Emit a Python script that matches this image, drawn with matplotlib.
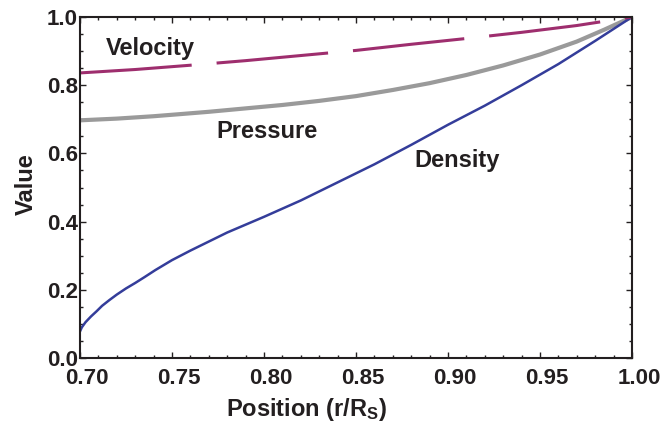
#!/usr/bin/env python3

import matplotlib
matplotlib.use('Agg')
import matplotlib.pyplot as plt
from matplotlib.ticker import MultipleLocator, FormatStrFormatter
from matplotlib.transforms import ScaledTranslation

plt.rcParams['font.family'] = ['Liberation Sans', 'DejaVu Sans']
plt.rcParams['font.weight'] = 'bold'
plt.rcParams['axes.labelweight'] = 'bold'
plt.rcParams['mathtext.fontset'] = 'custom'
plt.rcParams['mathtext.rm'] = 'Liberation Sans:bold'
plt.rcParams['mathtext.bf'] = 'Liberation Sans:bold'
plt.rcParams['mathtext.it'] = 'Liberation Sans:bold'
plt.rcParams['lines.scale_dashes'] = False

ink = '#231f20'

# Values.
density_x = [0.700, 0.701, 0.703, 0.706, 0.709, 0.712, 0.716, 0.720, 0.725, 0.730, 0.735,
             0.741, 0.750, 0.760, 0.780, 0.800, 0.820, 0.840, 0.860, 0.880, 0.900, 0.920,
             0.940, 0.960, 0.980, 1.000]
density_y = [0.078, 0.090, 0.105, 0.122, 0.137, 0.153, 0.170, 0.186, 0.204, 0.220, 0.237,
             0.258, 0.287, 0.315, 0.368, 0.414, 0.462, 0.515, 0.568, 0.625, 0.684, 0.740,
             0.800, 0.862, 0.930, 1.000]

pressure_x = [0.700, 0.720, 0.740, 0.754, 0.770, 0.790, 0.810, 0.830, 0.850, 0.870, 0.890,
              0.910, 0.930, 0.950, 0.970, 0.985, 1.000]
pressure_y = [0.697, 0.702, 0.709, 0.715, 0.722, 0.732, 0.742, 0.754, 0.768, 0.786, 0.806,
              0.830, 0.858, 0.890, 0.928, 0.963, 1.000]

velocity_x = [0.700, 0.730, 0.761, 0.790, 0.820, 0.850, 0.880, 0.910, 0.940, 0.970, 1.000]
velocity_y = [0.836, 0.846, 0.859, 0.872, 0.887, 0.902, 0.920, 0.937, 0.955, 0.975, 1.000]

x_ticks = [0.70, 0.75, 0.80, 0.85, 0.90, 0.95, 1.00]
y_ticks = [0.0, 0.2, 0.4, 0.6, 0.8, 1.0]

fig = plt.figure(figsize=(6.65, 4.28), dpi=100)
ax = fig.add_axes([80 / 665, 70 / 428, 552 / 665, 341 / 428])

ax.plot(pressure_x, pressure_y, color='#9a9a9a', lw=3.0, solid_capstyle='butt')
ax.plot(density_x, density_y, color='#343d9a', lw=1.8)
ax.plot(velocity_x, velocity_y, color='#9e2e6e', lw=2.2, dashes=(80.6, 18.0))

ax.text(0.738, 0.889, 'Velocity', fontsize=17, ha='center', va='baseline', color=ink)
ax.text(0.8016, 0.645, 'Pressure', fontsize=17, ha='center', va='baseline', color=ink)
ax.text(0.905, 0.560, 'Density', fontsize=17, ha='center', va='baseline', color=ink)

ax.set_xlim(0.70, 1.00)
ax.set_ylim(0.0, 1.0)
ax.set_xticks(x_ticks)
ax.set_yticks(y_ticks)
ax.xaxis.set_major_formatter(FormatStrFormatter('%.2f'))
ax.yaxis.set_major_formatter(FormatStrFormatter('%.1f'))
ax.xaxis.set_minor_locator(MultipleLocator(0.01))
ax.yaxis.set_minor_locator(MultipleLocator(0.05))

for s in ax.spines.values():
    s.set_linewidth(1.5)
    s.set_color(ink)
ax.tick_params(which='both', direction='in', top=True, right=True, color=ink, width=1.0)
ax.tick_params(which='major', length=4.5, labelsize=16, labelcolor=ink)
ax.tick_params(which='minor', length=2.5)
ax.tick_params(axis='x', which='major', pad=7.5)
ax.tick_params(axis='y', which='major', pad=1.5)

ax.set_xlabel(r'Position (r/R$_\mathrm{S}$)', fontsize=17, fontweight='bold', color=ink)
ax.set_ylabel('Value', fontsize=17, fontweight='bold', color=ink)
ax.xaxis.set_label_coords(0.41, -0.11)
ax.yaxis.set_label_coords(-0.076, 0.51)

# tick labels sit a little right of their ticks in the reference
shift = ScaledTranslation(7 / 100, 0, fig.dpi_scale_trans)
for lab in ax.get_xticklabels():
    lab.set_transform(lab.get_transform() + shift)

fig.savefig('out.png', dpi=100)
